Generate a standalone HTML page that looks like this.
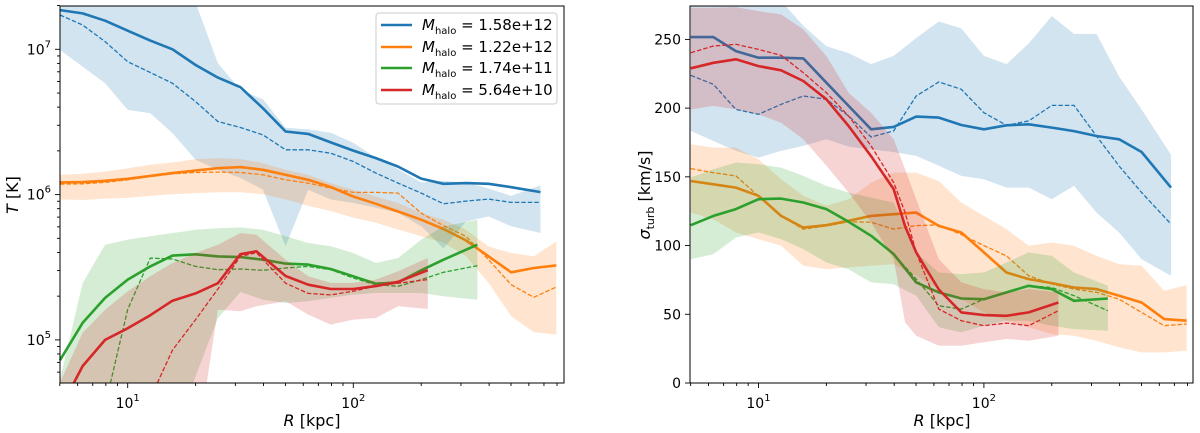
<!DOCTYPE html>
<html><head><meta charset="utf-8">
<style>
html,body{margin:0;padding:0;background:#fff;width:1200px;height:433px;overflow:hidden;}
svg{display:block;font-family:"DejaVu Sans","Liberation Sans",sans-serif;}
</style></head>
<body>
<svg id="chart" width="1200" height="433" viewBox="0 0 1200 433" xmlns="http://www.w3.org/2000/svg" style="overflow:hidden">
<g id="gL"></g>
<g id="gR"></g>
<g id="axes"></g>
<rect x="60" y="6" width="504" height="377" fill="none" stroke="#000" stroke-width="1"/>
<rect x="690" y="6" width="503" height="377" fill="none" stroke="#000" stroke-width="1"/>
<text x="312" y="426" text-anchor="middle" font-size="16"><tspan font-style="italic">R</tspan> [kpc]</text>
<text x="942" y="426" text-anchor="middle" font-size="16"><tspan font-style="italic">R</tspan> [kpc]</text>
<text transform="translate(18,195) rotate(-90)" text-anchor="middle" font-size="16"><tspan font-style="italic">T</tspan> [K]</text>
<text transform="translate(650,195) rotate(-90)" text-anchor="middle" font-size="16"><tspan font-style="italic">σ</tspan><tspan font-size="11" dy="4">turb</tspan><tspan dy="-4"> [km/s]</tspan></text>
<g>
<rect x="376" y="13" width="181" height="91" rx="3" fill="#fff" fill-opacity="0.8" stroke="#ccc" stroke-width="1"/>
<g><line x1="381" y1="25" x2="412" y2="25" stroke="#1f77b4" stroke-width="2.6"/><text x="422" y="30" font-size="15"><tspan font-style="italic">M</tspan><tspan font-size="10" dy="4">halo</tspan><tspan dy="-4"> = 1.58e+12</tspan></text></g>
<g><line x1="381" y1="47" x2="412" y2="47" stroke="#ff7f0e" stroke-width="2.6"/><text x="422" y="52" font-size="15"><tspan font-style="italic">M</tspan><tspan font-size="10" dy="4">halo</tspan><tspan dy="-4"> = 1.22e+12</tspan></text></g>
<g><line x1="381" y1="68" x2="412" y2="68" stroke="#2ca02c" stroke-width="2.6"/><text x="422" y="73" font-size="15"><tspan font-style="italic">M</tspan><tspan font-size="10" dy="4">halo</tspan><tspan dy="-4"> = 1.74e+11</tspan></text></g>
<g><line x1="381" y1="90" x2="412" y2="90" stroke="#d62728" stroke-width="2.6"/><text x="422" y="95" font-size="15"><tspan font-style="italic">M</tspan><tspan font-size="10" dy="4">halo</tspan><tspan dy="-4"> = 5.64e+10</tspan></text></g>
</g>
</svg>
<script>
// radii (kpc)
const blueR = [5.01,6.31,7.94,10,12.6,15.8,20,25.1,31.6,39.8,50.1,63.1,79.4,100,126,158,200,251,316,398,501,676];
const orangeR = [5.01,6.31,7.94,10,12.6,15.8,20,25.1,31.6,39.8,50.1,63.1,79.4,100,126,158,200,251,316,398,501,631,794];
const greenR = [5.01,6.31,7.94,10,12.6,15.8,20,25.1,31.6,39.8,50.1,63.1,79.4,100,126,158,200,251,355];
const redRLeft = [5.01,6.31,7.94,10,12.6,15.8,20,25.1,31.6,37.2,50.1,63.1,79.4,100,126,158,214];
const redRRight = [5.01,6.31,7.94,10,12.6,15.8,20,25.1,31.6,39.8,44.7,50.1,63.1,79.4,100,126,158,214];
// left panel: log10(T [K])
const blueT = [7.270,7.247,7.197,7.128,7.060,7.0,6.892,6.805,6.739,6.594,6.434,6.418,6.359,6.303,6.251,6.193,6.110,6.074,6.079,6.074,6.051,6.017];
const blueTd = [7.236,7.167,7.053,6.915,6.840,6.766,6.640,6.503,6.462,6.411,6.308,6.308,6.285,6.228,6.148,6.079,6.010,5.937,5.955,5.969,5.946,5.946];
const blueTup = [7.45,7.45,7.45,7.45,7.45,7.45,7.32,6.904,6.72,6.656,6.46,6.449,6.426,6.357,6.254,6.174,6.083,6.094,6.083,6.042,5.991,6.064];
const blueTlo = [6.995,6.881,6.766,6.583,6.560,6.423,6.24,6.171,6.114,6.034,5.645,6.034,5.966,5.943,5.909,5.874,5.782,5.63,5.815,5.850,5.782,5.736];
const orangeT = [6.084,6.086,6.095,6.109,6.129,6.148,6.166,6.182,6.189,6.171,6.136,6.102,6.052,5.987,5.937,5.884,5.827,5.763,5.685,5.575,5.465,5.495,5.513];
const orangeTd = [6.072,6.074,6.084,6.102,6.125,6.143,6.152,6.155,6.152,6.136,6.102,6.079,6.045,6.015,6.015,6.010,5.873,5.786,5.712,5.552,5.380,5.293,5.364];
const orangeTup = [6.136,6.143,6.159,6.182,6.205,6.221,6.244,6.251,6.244,6.217,6.171,6.136,6.079,6.033,5.987,5.942,5.873,5.827,5.758,5.643,5.598,5.575,5.678];
const orangeTlo = [5.967,5.963,5.972,5.979,5.991,6.002,6.010,6.016,6.016,6.002,5.967,5.922,5.887,5.841,5.806,5.760,5.714,5.668,5.577,5.392,5.163,5.052,5.037];
const greenT = [4.860,5.117,5.289,5.415,5.506,5.580,5.589,5.575,5.570,5.552,5.525,5.518,5.488,5.438,5.387,5.396,5.479,5.552,5.655];
const greenTd = [3.8,4.0,4.55,5.21,5.563,5.557,5.506,5.483,5.488,5.479,5.495,5.506,5.483,5.426,5.380,5.369,5.415,5.465,5.511];
const greenTup = [4.727,5.39,5.655,5.690,5.713,5.735,5.758,5.769,5.774,5.758,5.713,5.667,5.644,5.598,5.529,5.564,5.690,5.781,5.827];
const greenTlo = [4.0,4.1,4.2,4.25,4.3,4.3,4.75,5.15,5.33,5.277,5.254,5.266,5.289,5.312,5.323,5.323,5.323,5.300,5.277];
const redT = [4.52,4.82,5.00,5.08,5.17,5.27,5.32,5.39,5.59,5.61,5.44,5.38,5.35,5.35,5.37,5.40,5.48];
const redTd = [3.8,4.0,4.2,4.4,4.6,4.93,5.14,5.35,5.575,5.60,5.39,5.32,5.31,5.335,5.37,5.39,5.415];
const redTup = [4.705,5.048,5.208,5.334,5.438,5.529,5.598,5.655,5.735,5.724,5.552,5.438,5.392,5.392,5.415,5.472,5.564];
const redTlo = [4.0,4.0,4.0,4.0,4.1,4.2,4.2,5.208,5.197,5.231,5.266,5.174,5.105,5.140,5.151,5.231,5.213];
// right panel: sigma_turb (km/s)
const blueS = [251.7,251.7,241.5,236.7,236.7,236.2,218.5,201.6,184.6,186.3,193.8,193.1,187.7,184.6,187.5,188.2,185.8,183.3,179.7,177.3,168.1,142.2];
const blueSd = [223.8,217.3,199.1,195.5,202.8,208.8,206.4,194.3,179.0,183.4,208.8,219.0,213.7,196.7,187.5,190.7,202.0,202.0,179.7,157.9,138.6,115.6];
const blueSup = [300,295,290,285,278,260,245,240,232,238,251,263,258,238,232,247,267,254,254,223,199,166];
const blueSlo = [183.4,176.1,168.9,164,168.9,172.5,177.3,172,170,168,165.2,158,150.7,148.3,142.2,142.2,133.7,143.4,124,109.5,90.1,78];
const orangeS = [147,144.6,142.2,136.2,121.6,113.1,114.8,118,121.6,122.8,124,114.3,109.5,95,80.4,75.6,72.7,69.5,68.3,63.5,58.6,46.5,45.3];
const orangeSd = [156,153,150.7,136,121.6,111.9,114.3,117.3,117,112,114.5,115,108,100,92.5,78,72,68.3,66,61,51.4,41.7,42.9];
const orangeSup = [173.7,171.3,171.3,162.8,148.3,136.2,128.9,133.7,145.8,153.1,153.1,147,131.3,121.6,112,99.8,102.2,99.8,92.5,86.5,85.3,67.1,71.2];
const orangeSlo = [124,119.2,109.5,104.7,99.8,85.3,82.8,84.1,85.3,86.5,78,68.3,61,51.4,45.3,40.5,35.6,34.4,30.8,25.9,22.3,22.3,23.5];
const greenS = [114.8,121.6,126.5,133.7,134.2,131.3,126.5,117.3,107.1,93.8,73.2,65.9,61.5,61,65.9,70.7,68.3,59.8,61.5];
const greenSd = [114.8,121.6,126.5,133.7,134.2,131.3,126.5,117.3,107.1,93.8,75.6,56.2,53.8,61,65.9,70.7,69.5,63.5,52.6];
const greenSup = [149.5,155.5,160.4,159.2,156.7,150.7,143.4,138.6,134.9,131.3,95,80.4,79.2,80.4,87.7,95,92.5,80.4,70.7];
const greenSlo = [90.1,93.8,105.9,109.5,104.7,97.4,87.7,82.8,73.2,71.9,63.5,40.5,36.8,41.7,45.3,45.3,41.7,39.2,38];
const redS = [229,233,235.5,230.6,227.5,219.7,206.4,187,165,141,114,95,68,51.4,49.4,48.9,51.4,58.6];
const redSd = [240.3,245.2,246.4,242.7,238.4,225.8,211.2,194.3,172.5,145.8,124,95,53.8,45.3,41.7,43.6,41.7,52.6];
const redSup = [273,273,273.5,270.6,268.2,257.3,237.9,211.2,196.7,177.3,155.5,133.7,90.1,73.2,68.3,65.9,68.3,65.9];
const redSlo = [199,201.6,199.1,195.5,189.4,177.3,158,138.6,116.8,90.1,44.1,34.4,27.1,27.1,29.6,32,30.8,34.4];
// ticks
const yTicksLeft = [5,6,7];
const yTicksRight = [0,50,100,150,200,250];
const xTicks = [1,2];

const NS = "http://www.w3.org/2000/svg";
const xL = r => 127.7 + (Math.log10(r) - 1) * 225.6;
const yL = lt => 49.3 + (7 - lt) * 145.3;
const xR = r => 758.5 + (Math.log10(r) - 1) * 225.4;
const yR = s => 383 - s * 1.3744;
const BOX_L = [60, 6, 564, 383];
const BOX_R = [690, 6, 1193, 383];

function mk(tag, attrs, parent) {
  const e = document.createElementNS(NS, tag);
  for (const k in attrs) e.setAttribute(k, attrs[k]);
  parent.appendChild(e);
  return e;
}
function toPx(R, V, fx, fy) { return R.map((r, i) => [fx(r), fy(V[i])]); }

// Liang-Barsky segment clip
function clipSeg(p, q, b) {
  let t0 = 0, t1 = 1;
  const dx = q[0] - p[0], dy = q[1] - p[1];
  const P = [-dx, dx, -dy, dy], Q = [p[0] - b[0], b[2] - p[0], p[1] - b[1], b[3] - p[1]];
  for (let i = 0; i < 4; i++) {
    if (P[i] === 0) { if (Q[i] < 0) return null; }
    else {
      const t = Q[i] / P[i];
      if (P[i] < 0) { if (t > t1) return null; if (t > t0) t0 = t; }
      else { if (t < t0) return null; if (t < t1) t1 = t; }
    }
  }
  return [[p[0] + t0 * dx, p[1] + t0 * dy], [p[0] + t1 * dx, p[1] + t1 * dy]];
}
function linePath(P, b) {
  let d = "", last = null;
  for (let i = 0; i < P.length - 1; i++) {
    const c = clipSeg(P[i], P[i + 1], b);
    if (!c) { last = null; continue; }
    const a = c[0], e = c[1];
    if (!last || Math.abs(last[0] - a[0]) > 0.01 || Math.abs(last[1] - a[1]) > 0.01) d += "M" + a[0].toFixed(1) + "," + a[1].toFixed(1);
    d += "L" + e[0].toFixed(1) + "," + e[1].toFixed(1);
    last = e;
  }
  return d;
}
// Sutherland-Hodgman polygon clip
function clipPoly(P, b) {
  const edges = [
    [p => p[0] >= b[0], (p, q) => { const t = (b[0] - p[0]) / (q[0] - p[0]); return [b[0], p[1] + t * (q[1] - p[1])]; }],
    [p => p[0] <= b[2], (p, q) => { const t = (b[2] - p[0]) / (q[0] - p[0]); return [b[2], p[1] + t * (q[1] - p[1])]; }],
    [p => p[1] >= b[1], (p, q) => { const t = (b[1] - p[1]) / (q[1] - p[1]); return [p[0] + t * (q[0] - p[0]), b[1]]; }],
    [p => p[1] <= b[3], (p, q) => { const t = (b[3] - p[1]) / (q[1] - p[1]); return [p[0] + t * (q[0] - p[0]), b[3]]; }]
  ];
  let out = P;
  edges.forEach(([inside, inter]) => {
    const inp = out; out = [];
    for (let i = 0; i < inp.length; i++) {
      const cur = inp[i], prev = inp[(i + inp.length - 1) % inp.length];
      if (inside(cur)) { if (!inside(prev)) out.push(inter(prev, cur)); out.push(cur); }
      else if (inside(prev)) out.push(inter(prev, cur));
    }
  });
  return out.map(p => p[0].toFixed(1) + "," + p[1].toFixed(1)).join(" ");
}

const gL = document.getElementById("gL");
const gR = document.getElementById("gR");
const series = [
  ["blue", "#1f77b4", blueR, blueR, blueT, blueTd, blueTup, blueTlo, blueS, blueSd, blueSup, blueSlo],
  ["orange", "#ff7f0e", orangeR, orangeR, orangeT, orangeTd, orangeTup, orangeTlo, orangeS, orangeSd, orangeSup, orangeSlo],
  ["green", "#2ca02c", greenR, greenR, greenT, greenTd, greenTup, greenTlo, greenS, greenSd, greenSup, greenSlo],
  ["red", "#d62728", redRLeft, redRRight, redT, redTd, redTup, redTlo, redS, redSd, redSup, redSlo]
];
series.forEach(s => {
  const [nm, col, RL, RR, t, td, tu, tl, sv, sd, su, sl] = s;
  [[gL, RL, t, td, tu, tl, xL, yL, "temperature", BOX_L], [gR, RR, sv, sd, su, sl, xR, yR, "sigma", BOX_R]].forEach(p => {
    const [g, R, v, vd, vu, vl, fx, fy, lab, box] = p;
    const poly = toPx(R, vu, fx, fy).concat(toPx(R, vl, fx, fy).reverse());
    const band = mk("polygon", {points: clipPoly(poly, box), fill: col, "fill-opacity": 0.2, stroke: "none"}, g);
    
    
    const dl = mk("path", {d: linePath(toPx(R, vd, fx, fy), box), fill: "none", stroke: col, "stroke-width": 1.3, "stroke-dasharray": "4.5,2"}, g);
    
    
    const sl2 = mk("path", {d: linePath(toPx(R, v, fx, fy), box), fill: "none", stroke: col, "stroke-width": 2.6, "stroke-linejoin": "round"}, g);
    
    
  });
});

// axes
const ax = document.getElementById("axes");
function tick(x1, y1, x2, y2) { return mk("line", {x1, y1, x2, y2, stroke: "#000", "stroke-width": 0.9}, ax); }
function label(x, y, anchor, base, exp, nm) {
  const t = mk("text", {x, y, "text-anchor": anchor, "font-size": 14}, ax);
  
  
  const a = document.createElementNS(NS, "tspan"); a.textContent = base; t.appendChild(a);
  if (exp !== null) {
    const b = document.createElementNS(NS, "tspan"); b.setAttribute("font-size", 10); b.setAttribute("dy", -7); b.textContent = exp; t.appendChild(b);
  }
  return t;
}
[[xL, 60, 564], [xR, 690, 1193]].forEach((p, pi) => {
  const [fx, lo, hi] = p;
  for (let d = 0; d <= 2; d++) for (let m = 1; m <= 9; m++) {
    const r = m * Math.pow(10, d); const x = fx(r);
    if (x < lo - 0.5 || x > hi + 0.5) continue;
    if (m === 1) tick(x, 383, x, 388); else tick(x, 383, x, 386);
  }
  xTicks.forEach(e => {
    const x = fx(Math.pow(10, e));
    label(x, 408, "middle", "10", String(e), (pi ? "right" : "left") + "-x-tick-label");
  });
});
for (let d = 4; d <= 7; d++) for (let m = 1; m <= 9; m++) {
  const y = yL(d + Math.log10(m));
  if (y < 5.5 || y > 383.5) continue;
  if (m === 1) tick(55, y, 60, y); else tick(57, y, 60, y);
}
yTicksLeft.forEach(e => label(51, yL(e) + 5, "end", "10", String(e), "left-y-tick-label"));
yTicksRight.forEach(v => {
  const y = yR(v); tick(685, y, 690, y);
  label(681, y + 5, "end", String(v), null, "right-y-tick-label");
});
</script>
</body></html>
